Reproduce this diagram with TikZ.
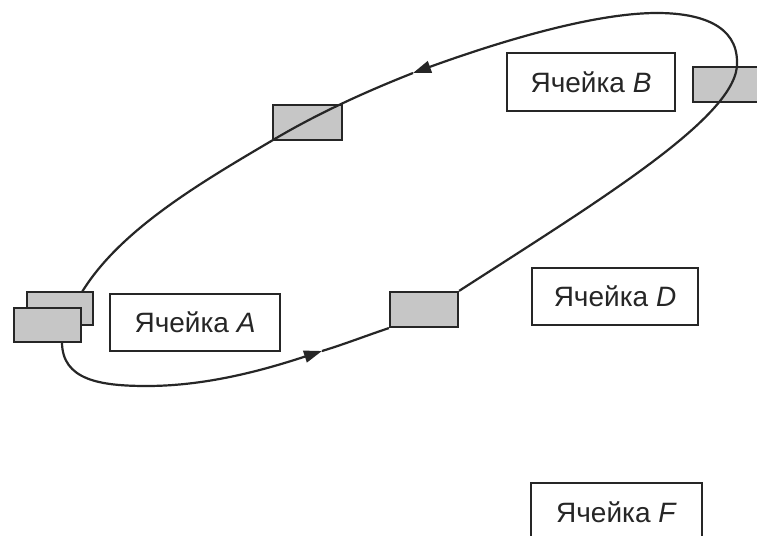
\documentclass[tikz,border=0pt]{standalone}
\usepackage{fontspec}
\setmainfont{Liberation Sans}
\usetikzlibrary{arrows.meta}
\definecolor{ink}{HTML}{262626}
\definecolor{grayfill}{HTML}{C6C6C6}
\begin{document}
\begin{tikzpicture}[x=1pt,y=-1pt,
  cellbox/.style={draw=ink,line width=2.2pt,fill=white,inner sep=0pt,
    font=\fontsize{28}{30}\selectfont,text=ink},
  graybox/.style={draw=ink,line width=2.2pt,fill=grayfill,inner sep=0pt},
  loop/.style={draw=ink,line width=2.2pt},
  tip/.style={-{Triangle[length=18pt,width=12pt]}}]
\useasboundingbox[fill=white] (0,0) rectangle (757,535);
\begin{scope}
\clip (0,0) rectangle (757,535);
% cells
\node[cellbox,minimum width=170pt,minimum height=57pt] (A) at (195,322.5) {Ячейка \textit{A}};
\node[cellbox,minimum width=168pt,minimum height=58pt] (B) at (591,82) {Ячейка \textit{B}};
\node[cellbox,minimum width=166pt,minimum height=57pt] (D) at (615,296.5) {Ячейка \textit{D}};
\node[cellbox,minimum width=171pt,minimum height=58pt] (F) at (616.5,512) {Ячейка \textit{F}};
% gray packets
\node[graybox,minimum width=66pt,minimum height=33pt] (g1) at (60,308.5) {};
\node[graybox,minimum width=67pt,minimum height=34pt] (g2) at (47.5,325) {};
\node[graybox,minimum width=69pt,minimum height=35pt] (g3) at (307.5,122.5) {};
\node[graybox,minimum width=68pt,minimum height=35pt] (g4) at (424,309.5) {};
\node[graybox,minimum width=77pt,minimum height=35pt] (g5) at (731.5,84.5) {};
% loop coordinates
\coordinate (r0) at (g4.north east);
\coordinate (r1) at (737,62);
\coordinate (t0) at (657,13);
\coordinate (ta) at (413,73);
\coordinate (l0) at (273,140);
\coordinate (l1) at (82,292);
\coordinate (b0) at (62,342);
\coordinate (b1) at (147,386);
\coordinate (ba) at (322,351);
\coordinate (b2) at (g4.south west);
% loop
\draw[loop] (r0) .. controls (600,200) and (740,115) .. (r1)
  .. controls (737,25) and (700,13) .. (t0);
\draw[loop,tip] (t0) .. controls (590,13) and (490,45) .. (ta);
\draw[loop] (ta) .. controls (370,90) and (320,112) .. (l0)
  .. controls (200,183) and (120,230) .. (l1);
\draw[loop,tip] (b0) .. controls (62,380) and (100,386) .. (b1)
  .. controls (210,386) and (270,368) .. (ba);
\draw[loop] (ba) .. controls (345,344) and (368,335) .. (b2);
\end{scope}
\end{tikzpicture}
\end{document}
